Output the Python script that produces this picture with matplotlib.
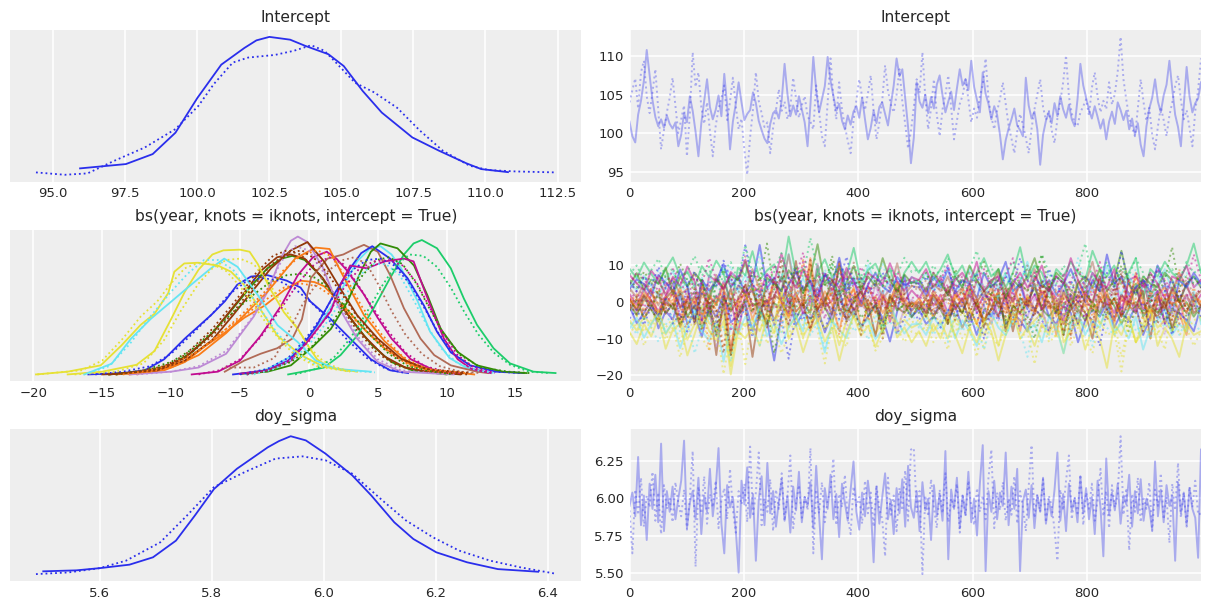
import numpy as np
import matplotlib
matplotlib.use("Agg")
import matplotlib.pyplot as plt

# arviz-darkgrid colour cycle
palette = ["#2a2eec", "#fa7c17", "#328c06", "#c10c90", "#933708",
           "#65e5f3", "#e6e135", "#1ccd6a", "#bd8ad5", "#b16b57"]

titles = ["Intercept", "bs(year, knots = iknots, intercept = True)", "doy_sigma"]

kde_xticks = [[95, 97.5, 100, 102.5, 105, 107.5, 110, 112.5],
              [-20, -15, -10, -5, 0, 5, 10, 15],
              [5.6, 5.8, 6.0, 6.2, 6.4]]
trace_yticks = [[95, 100, 105, 110], [-20, -10, 0, 10], [5.5, 5.75, 6.0, 6.25]]
draw_ticks = [0, 200, 400, 600, 800]
n_draws = 1000

# ---- Intercept: kde curves (value, relative density) per chain ----
intercept_kde_c0 = [(95.93, 0.053), (97.52, 0.084), (98.45, 0.156), (99.24, 0.31), (100.0, 0.56),
                    (100.83, 0.80), (101.63, 0.92), (102.05, 0.975), (102.5, 1.0), (103.22, 0.98),
                    (103.75, 0.935), (104.55, 0.875), (105.08, 0.79), (105.74, 0.61), (106.4, 0.455),
                    (107.46, 0.276), (108.39, 0.18), (109.32, 0.091), (109.85, 0.048), (110.78, 0.026)]
intercept_kde_c1 = [(94.4, 0.024), (95.4, 0.007), (96.19, 0.017), (97.12, 0.108), (98.18, 0.204),
                    (99.24, 0.336), (100.04, 0.504), (100.57, 0.66), (101.23, 0.815), (101.76, 0.851),
                    (102.69, 0.87), (103.35, 0.90), (103.95, 0.94), (104.41, 0.90), (104.81, 0.815),
                    (105.47, 0.67), (106.14, 0.60), (106.93, 0.49), (107.73, 0.324), (108.52, 0.18),
                    (109.45, 0.072), (110.11, 0.041), (111.04, 0.031), (112.43, 0.024)]

# Intercept trace, every 5th draw
intercept_trace_c0 = [
    101.5, 99.6, 98.8, 102.4, 104.2, 106.8, 110.8, 107.5, 104.3, 102.1, 100.9, 101.8, 100.7, 102.3, 101.2,
    100.6, 101.4, 98.3, 99.8, 102.6, 101.4, 104.8, 102.9, 100.2, 97.0, 101.3, 104.1, 107.0, 103.4, 101.8,
    103.0, 104.9, 102.2, 107.7, 103.6, 97.9, 101.5, 103.8, 106.6, 104.0, 101.7, 102.5, 103.0, 105.3, 103.9,
    101.6, 100.4, 99.3, 98.7, 101.2, 102.6, 103.0, 101.9, 104.3, 109.0, 105.1, 102.2, 103.6, 102.4, 104.8,
    103.1, 101.4, 98.3, 103.7, 109.9, 105.6, 102.7, 104.4, 106.1, 109.9, 106.8, 104.8, 102.9, 103.8, 101.6,
    100.5, 102.3, 101.1, 102.8, 103.5, 102.0, 104.6, 101.8, 99.2, 100.7, 102.9, 101.3, 103.4, 104.0, 102.5,
    101.0, 103.7, 106.2, 109.7, 107.4, 108.3, 104.6, 100.8, 96.1, 99.4, 106.6, 104.1, 103.3, 105.0, 102.6,
    104.7, 103.2, 106.3, 107.5, 104.9, 102.7, 104.1, 105.4, 103.0, 105.8, 108.3, 106.2, 107.0, 105.6, 109.4,
    106.0, 104.3, 102.7, 107.9, 105.1, 103.8, 101.8, 103.5, 102.4, 99.8, 96.6, 99.1, 100.6, 101.8, 103.2,
    101.0, 100.4, 99.6, 107.2, 103.6, 101.9, 102.8, 100.5, 95.9, 99.8, 101.6, 102.7, 101.3, 103.9, 102.2,
    104.8, 103.1, 102.0, 103.7, 101.8, 100.9, 104.4, 109.0, 106.2, 104.6, 103.0, 101.9, 103.5, 102.1, 100.6,
    101.8, 99.2, 101.5, 102.8, 101.2, 104.0, 103.0, 101.7, 102.9, 100.5, 101.9, 99.8, 101.3, 98.5, 97.0,
    100.9, 103.2, 104.6, 107.0, 104.1, 102.7, 104.9, 106.3, 109.4, 105.7, 102.4, 100.8, 98.3, 103.6, 108.6,
    104.8, 102.7, 103.9, 104.5, 106.6]
intercept_trace_c1 = [
    104.0, 105.6, 107.1, 103.2, 107.9, 109.4, 104.8, 102.6, 105.3, 108.3, 103.1, 97.9, 100.4, 102.7, 104.6,
    107.2, 103.5, 100.0, 101.8, 103.6, 97.0, 102.4, 110.5, 106.0, 107.9, 103.4, 101.2, 104.0, 100.3, 97.0,
    100.9, 103.2, 104.5, 106.2, 101.7, 104.1, 107.2, 103.6, 100.5, 101.9, 97.8, 94.6, 99.5, 103.1, 107.9,
    104.2, 102.6, 100.8, 101.4, 97.4, 100.7, 103.0, 105.7, 102.9, 104.1, 101.8, 103.3, 107.2, 104.5, 102.0,
    103.6, 104.8, 102.2, 101.5, 100.5, 106.2, 102.8, 99.6, 98.3, 103.9, 109.7, 104.6, 101.8, 106.6, 103.0,
    100.9, 99.0, 97.4, 101.6, 104.3, 107.0, 104.7, 103.0, 105.1, 107.5, 102.9, 99.2, 101.4, 104.2, 108.8,
    105.5, 103.7, 102.7, 105.0, 108.3, 104.1, 101.2, 98.0, 100.3, 103.4, 107.0, 105.2, 110.5, 104.6, 100.5,
    103.2, 107.0, 102.4, 99.6, 103.1, 105.0, 107.5, 103.3, 99.2, 101.6, 103.8, 104.9, 107.0, 104.4, 101.4,
    103.2, 102.0, 104.8, 106.3, 109.7, 104.5, 102.1, 100.5, 102.9, 104.4, 106.6, 103.8, 101.0, 99.3, 97.4,
    100.2, 102.5, 101.1, 99.4, 97.4, 100.6, 103.1, 105.0, 107.0, 103.4, 101.7, 103.0, 100.4, 98.7, 101.9,
    104.1, 106.6, 110.1, 104.8, 102.6, 101.3, 100.9, 102.7, 103.5, 104.4, 102.3, 105.9, 107.9, 104.7, 102.7,
    104.2, 103.1, 106.6, 103.7, 105.1, 108.0, 112.5, 107.0, 104.3, 102.0, 100.8, 99.6, 103.2, 107.0, 104.0,
    101.6, 103.3, 99.8, 97.9, 100.9, 103.4, 101.7, 99.6, 102.3, 104.0, 106.1, 107.5, 104.3, 101.8, 103.0,
    100.7, 98.3, 102.9, 105.6, 109.7]

# ---- doy_sigma ----
sigma_kde_c0 = [(5.499, 0.027), (5.558, 0.034), (5.6, 0.05), (5.653, 0.075), (5.695, 0.128),
                (5.736, 0.248), (5.77, 0.43), (5.804, 0.62), (5.845, 0.766), (5.9, 0.92), (5.92, 0.965),
                (5.941, 1.0), (5.968, 0.97), (6.003, 0.875), (6.051, 0.718), (6.085, 0.573),
                (6.126, 0.38), (6.16, 0.26), (6.201, 0.164), (6.256, 0.092), (6.311, 0.043),
                (6.383, 0.024)]
sigma_kde_c1 = [(5.486, 0.007), (5.544, 0.019), (5.6, 0.05), (5.647, 0.104), (5.708, 0.236),
                (5.756, 0.43), (5.804, 0.634), (5.859, 0.742), (5.914, 0.839), (5.962, 0.855),
                (6.003, 0.827), (6.051, 0.73), (6.105, 0.537), (6.147, 0.393), (6.195, 0.272),
                (6.242, 0.176), (6.297, 0.104), (6.352, 0.055), (6.414, 0.01)]

# doy_sigma trace, every 5th draw
sigma_trace_c0 = [
    5.95, 6.04, 5.88, 6.28, 5.82, 6.02, 5.72, 6.10, 5.93, 6.16, 5.84, 6.37, 5.78, 6.05, 5.91, 6.08, 5.86,
    6.00, 6.12, 6.39, 5.80, 5.97, 6.05, 5.86, 6.14, 5.76, 6.02, 5.91, 6.20, 5.88, 6.06, 6.34, 5.83, 5.63,
    6.09, 5.94, 6.01, 5.79, 5.50, 6.12, 5.96, 6.21, 5.87, 6.03, 5.58, 5.99, 6.15, 5.82, 6.24, 5.90, 6.05,
    5.81, 5.98, 6.13, 5.85, 6.02, 5.77, 6.08, 5.92, 6.18, 5.84, 6.01, 5.95, 6.11, 5.80, 6.22, 5.89, 5.59,
    6.07, 5.93, 6.16, 5.86, 6.03, 5.74, 6.10, 5.97, 5.85, 6.06, 6.25, 5.91, 5.79, 6.04, 5.88, 6.12, 5.95,
    5.57, 6.08, 5.83, 6.01, 6.17, 5.86, 5.99, 5.76, 6.07, 5.90, 6.13, 5.81, 6.22, 5.94, 5.87, 6.05, 5.78,
    6.11, 5.92, 6.00, 5.72, 6.09, 5.88, 6.03, 5.85, 6.32, 5.59, 6.06, 5.93, 6.14, 5.80, 6.02, 5.89, 6.18,
    5.84, 6.00, 5.75, 6.10, 6.36, 5.51, 6.05, 5.91, 6.12, 5.86, 6.04, 5.95, 6.31, 5.82, 6.08, 5.93, 6.20,
    5.51, 5.98, 6.06, 5.87, 6.09, 5.80, 6.02, 5.91, 6.14, 5.83, 5.99, 5.88, 6.06, 6.31, 5.85, 6.03, 5.78,
    6.10, 5.92, 6.00, 5.84, 6.15, 5.90, 6.07, 5.86, 6.01, 5.76, 6.12, 5.94, 5.61, 6.27, 5.89, 6.04, 5.92,
    6.10, 5.83, 6.02, 5.96, 6.16, 5.81, 6.05, 5.90, 6.13, 5.85, 6.00, 5.93, 5.79, 6.25, 5.88, 6.06, 5.84,
    6.09, 5.95, 6.02, 5.58, 6.11, 5.90, 6.04, 5.82, 6.07, 5.93, 5.87, 5.60, 6.33]
sigma_trace_c1 = [
    5.92, 5.63, 6.06, 5.89, 6.14, 5.81, 6.02, 5.94, 6.18, 5.85, 6.04, 5.76, 6.09, 5.93, 6.00, 5.84, 6.11,
    5.97, 5.88, 6.06, 5.79, 6.00, 6.32, 5.54, 6.08, 5.90, 6.15, 5.83, 6.03, 5.94, 6.12, 5.80, 5.99, 6.07,
    5.86, 6.20, 5.92, 5.77, 6.05, 5.96, 6.10, 5.84, 6.35, 5.88, 6.04, 6.31, 5.82, 6.00, 5.91, 6.13, 5.78,
    6.06, 5.93, 6.17, 5.85, 6.02, 6.29, 5.80, 5.97, 6.09, 5.87, 6.01, 5.92, 6.34, 5.63, 6.06, 5.90, 6.11,
    5.84, 5.99, 6.05, 6.27, 5.82, 6.03, 5.94, 6.16, 5.87, 5.76, 6.08, 5.95, 6.01, 5.83, 6.12, 5.90, 6.04,
    5.81, 6.09, 5.93, 5.86, 5.61, 6.14, 5.89, 6.02, 5.78, 6.07, 5.92, 6.19, 5.85, 6.33, 6.34, 5.91, 6.05,
    5.49, 6.02, 5.88, 6.13, 5.94, 5.80, 6.06, 5.90, 6.17, 5.84, 6.00, 5.93, 6.10, 5.77, 6.03, 5.88, 6.12,
    5.95, 5.82, 6.07, 5.91, 6.02, 5.86, 6.14, 6.33, 5.80, 6.04, 5.92, 6.11, 5.85, 6.00, 5.89, 6.15, 5.83,
    6.05, 5.94, 5.78, 6.08, 6.36, 5.87, 6.03, 5.91, 6.13, 5.84, 6.02, 5.95, 5.79, 5.58, 6.06, 5.92, 6.12,
    6.29, 5.86, 6.01, 5.90, 6.16, 5.82, 6.04, 5.93, 6.10, 5.85, 5.99, 6.20, 5.88, 6.05, 5.80, 6.09, 5.94,
    6.02, 6.42, 5.89, 6.07, 5.65, 6.03, 5.91, 6.14, 5.84, 6.00, 5.93, 6.11, 5.78, 6.06, 5.95, 6.17, 5.86,
    6.01, 5.70, 6.10, 5.92, 6.24, 5.87, 6.04, 5.81, 6.08, 5.94, 6.12, 5.89, 5.90]

# ---- spline coefficients (17 components), kde per chain ----
bs_kde_c0 = [
    [(-16.0, 0.0), (-13.5, 0.01), (-11.9, 0.03), (-10.5, 0.11), (-9.0, 0.26), (-7.1, 0.43), (-6.1, 0.53), (-5.2, 0.65), (-4.2, 0.71), (-3.0, 0.72), (-1.6, 0.68), (-0.6, 0.63), (0.1, 0.53), (1.6, 0.40), (3.0, 0.26), (4.5, 0.11), (5.9, 0.03), (7.2, 0.01)],
    [(-13.0, 0.0), (-10.5, 0.03), (-9.0, 0.09), (-7.6, 0.2), (-6.0, 0.31), (-4.7, 0.41), (-3.2, 0.5), (-1.8, 0.61), (-0.6, 0.68), (0.4, 0.67), (1.1, 0.64), (2.5, 0.5), (4.0, 0.33), (5.5, 0.19), (7.4, 0.07), (9.0, 0.02), (10.0, 0.01)],
    [(-14.5, 0.0), (-12.0, 0.02), (-10.0, 0.07), (-8.5, 0.16), (-7.0, 0.3), (-5.5, 0.48), (-4.2, 0.64), (-3.0, 0.77), (-2.0, 0.84), (-1.2, 0.86), (-0.3, 0.83), (0.8, 0.72), (2.0, 0.55), (3.3, 0.37), (4.6, 0.21), (6.0, 0.09), (7.5, 0.03), (10.0, 0.0)],
    [(-8.5, 0.0), (-6.6, 0.02), (-5.0, 0.1), (-3.5, 0.28), (-2.0, 0.5), (-0.8, 0.72), (0.3, 0.85), (1.3, 0.89), (2.0, 0.84), (2.8, 0.75), (4.0, 0.58), (5.0, 0.41), (6.0, 0.26), (7.4, 0.11), (9.1, 0.03), (10.0, 0.01)],
    [(-15.0, 0.0), (-12.5, 0.01), (-11.0, 0.03), (-9.0, 0.12), (-7.0, 0.3), (-5.0, 0.55), (-3.5, 0.75), (-2.3, 0.85), (-1.3, 0.87), (-0.3, 0.84), (1.0, 0.7), (2.5, 0.48), (4.0, 0.28), (5.5, 0.13), (7.0, 0.05), (8.5, 0.02), (11.0, 0.0)],
    [(-4.5, 0.0), (-3.0, 0.04), (-1.3, 0.13), (-0.1, 0.26), (1.1, 0.41), (2.3, 0.6), (3.5, 0.82), (4.4, 0.91), (5.2, 0.93), (6.0, 0.87), (6.7, 0.77), (7.9, 0.53), (8.8, 0.31), (10.2, 0.12), (11.4, 0.05), (13.2, 0.01)],
    [(-17.5, 0.0), (-15.0, 0.02), (-12.5, 0.07), (-11.2, 0.17), (-10.0, 0.4), (-9.0, 0.6), (-8.0, 0.76), (-7.0, 0.87), (-6.2, 0.9), (-5.0, 0.905), (-4.3, 0.89), (-3.7, 0.8), (-2.8, 0.62), (-1.8, 0.45), (-0.8, 0.33), (0.0, 0.2), (0.6, 0.11), (1.5, 0.05), (3.5, 0.02)],
    [(-1.5, 0.0), (-0.7, 0.015), (1.1, 0.05), (2.3, 0.14), (3.5, 0.28), (4.7, 0.48), (5.9, 0.7), (6.9, 0.87), (7.6, 0.95), (8.2, 0.975), (9.3, 0.915), (10.3, 0.77), (11.25, 0.55), (12.2, 0.36), (13.4, 0.19), (14.6, 0.08), (16.3, 0.02), (17.9, 0.01)],
    [(-13.0, 0.0), (-10.0, 0.02), (-8.0, 0.05), (-6.0, 0.15), (-4.0, 0.42), (-3.0, 0.6), (-2.0, 0.85), (-1.3, 0.97), (-0.8, 1.0), (-0.1, 0.96), (1.0, 0.78), (2.1, 0.5), (3.5, 0.26), (5.0, 0.09), (6.7, 0.02), (10.5, 0.0)],
    [(-6.1, 0.02), (-4.7, 0.1), (-3.5, 0.15), (-2.3, 0.19), (-1.2, 0.26), (-0.5, 0.4), (0.15, 0.7), (1.35, 0.84), (2.5, 0.87), (3.3, 0.91), (4.0, 0.94), (5.0, 0.89), (5.9, 0.72), (6.9, 0.48), (8.1, 0.26), (9.1, 0.14), (10.3, 0.066), (12.2, 0.02), (13.0, 0.01)],
    [(-5.5, 0.0), (-3.0, 0.03), (-1.5, 0.1), (-0.5, 0.2), (0.6, 0.36), (1.8, 0.575), (3.0, 0.77), (3.8, 0.88), (4.6, 0.93), (5.9, 0.84), (7.15, 0.7), (8.35, 0.5), (9.3, 0.31), (10.3, 0.16), (11.7, 0.066), (13.6, 0.02), (15.6, 0.01)],
    [(-14.0, 0.0), (-11.5, 0.02), (-10.0, 0.05), (-8.0, 0.14), (-6.0, 0.3), (-4.5, 0.45), (-3.0, 0.6), (-2.0, 0.72), (-1.0, 0.84), (0.5, 0.92), (1.5, 0.91), (2.3, 0.75), (4.0, 0.43), (5.5, 0.24), (7.2, 0.09), (9.0, 0.03), (12.0, 0.0)],
    [(-4.9, 0.005), (-3.0, 0.02), (-1.3, 0.066), (0.14, 0.187), (1.6, 0.33), (2.8, 0.527), (3.77, 0.745), (4.5, 0.89), (5.2, 0.95), (6.43, 0.915), (7.63, 0.79), (8.6, 0.575), (9.57, 0.33), (10.8, 0.163), (12.2, 0.066), (14.1, 0.02), (15.8, 0.01)],
    [(-5.0, 0.005), (-3.0, 0.03), (-1.3, 0.1), (0.0, 0.25), (1.0, 0.38), (1.6, 0.46), (2.3, 0.65), (3.0, 0.79), (4.2, 0.77), (5.5, 0.82), (6.9, 0.84), (7.6, 0.82), (8.35, 0.62), (9.1, 0.43), (9.8, 0.26), (10.8, 0.11), (11.8, 0.04), (13.2, 0.01)],
    [(-14.5, 0.0), (-11.0, 0.03), (-9.0, 0.1), (-7.0, 0.25), (-5.5, 0.43), (-4.7, 0.53), (-2.75, 0.77), (-1.3, 0.9), (-0.1, 0.96), (1.1, 0.82), (2.3, 0.62), (3.5, 0.43), (5.0, 0.26), (6.7, 0.114), (8.8, 0.03), (11.2, 0.01)],
    [(-16.3, 0.0), (-14.3, 0.078), (-12.9, 0.26), (-11.45, 0.405), (-10.0, 0.527), (-8.55, 0.65), (-7.1, 0.77), (-6.14, 0.84), (-5.17, 0.78), (-3.7, 0.575), (-2.27, 0.357), (-0.82, 0.236), (0.5, 0.1), (2.0, 0.04), (4.5, 0.02)],
    [(-19.8, 0.0), (-17.5, 0.02), (-15.1, 0.066), (-13.6, 0.21), (-12.2, 0.36), (-11.2, 0.44), (-10.2, 0.59), (-9.76, 0.745), (-9.04, 0.805), (-8.07, 0.81), (-6.6, 0.79), (-5.65, 0.745), (-4.7, 0.65), (-3.24, 0.43), (-2.27, 0.28), (-0.58, 0.14), (1.0, 0.06), (2.5, 0.03), (3.0, 0.025)],
]
bs_kde_c1 = [
    [(-15.5, 0.0), (-13.5, 0.02), (-11.5, 0.06), (-10.0, 0.15), (-8.5, 0.29), (-7.0, 0.44), (-5.8, 0.58), (-4.6, 0.67), (-3.4, 0.70), (-2.2, 0.68), (-1.0, 0.62), (0.2, 0.52), (1.5, 0.39), (2.8, 0.25), (4.2, 0.12), (5.6, 0.04), (7.0, 0.01)],
    [(-12.5, 0.0), (-10.5, 0.04), (-9.0, 0.1), (-7.5, 0.21), (-6.0, 0.33), (-4.5, 0.44), (-3.0, 0.55), (-1.8, 0.63), (-0.6, 0.66), (0.6, 0.64), (1.8, 0.56), (3.0, 0.43), (4.4, 0.29), (5.8, 0.16), (7.4, 0.06), (9.0, 0.02), (10.5, 0.01)],
    [(-14.0, 0.0), (-12.0, 0.03), (-10.0, 0.09), (-8.5, 0.18), (-7.0, 0.31), (-5.5, 0.45), (-4.0, 0.58), (-2.8, 0.67), (-1.6, 0.72), (-0.6, 0.73), (0.5, 0.7), (1.7, 0.6), (3.0, 0.45), (4.4, 0.29), (5.8, 0.15), (7.2, 0.06), (9.0, 0.02), (10.5, 0.0)],
    [(-8.0, 0.0), (-6.5, 0.03), (-5.0, 0.11), (-3.5, 0.27), (-2.0, 0.48), (-0.8, 0.66), (0.4, 0.8), (1.5, 0.85), (2.5, 0.8), (3.5, 0.66), (4.6, 0.49), (5.8, 0.31), (7.0, 0.16), (8.4, 0.06), (10.0, 0.02), (11.0, 0.01)],
    [(-14.5, 0.0), (-12.5, 0.02), (-10.5, 0.06), (-9.0, 0.14), (-7.0, 0.33), (-5.2, 0.55), (-3.8, 0.74), (-2.6, 0.86), (-1.6, 0.9), (-0.6, 0.87), (0.6, 0.75), (2.0, 0.54), (3.5, 0.32), (5.0, 0.15), (6.5, 0.06), (8.5, 0.02), (11.5, 0.0)],
    [(-4.0, 0.0), (-2.5, 0.04), (-1.0, 0.12), (0.2, 0.24), (1.4, 0.39), (2.6, 0.57), (3.7, 0.72), (4.7, 0.8), (5.6, 0.8), (6.6, 0.72), (7.6, 0.54), (8.6, 0.35), (9.6, 0.19), (10.8, 0.08), (12.2, 0.03), (13.5, 0.01)],
    [(-17.0, 0.0), (-14.0, 0.02), (-12.0, 0.08), (-10.5, 0.25), (-9.3, 0.46), (-8.0, 0.66), (-7.0, 0.77), (-6.0, 0.83), (-5.0, 0.84), (-4.0, 0.8), (-3.0, 0.68), (-2.0, 0.52), (-1.0, 0.36), (0.0, 0.2), (1.0, 0.1), (2.0, 0.05), (3.0, 0.02)],
    [(-1.0, 0.0), (0.5, 0.04), (1.8, 0.12), (3.0, 0.26), (4.2, 0.45), (5.3, 0.64), (6.3, 0.79), (7.3, 0.87), (8.3, 0.86), (9.3, 0.78), (10.3, 0.63), (11.3, 0.45), (12.3, 0.29), (13.4, 0.16), (14.6, 0.07), (16.0, 0.02), (17.5, 0.01)],
    [(-12.5, 0.0), (-10.0, 0.02), (-8.0, 0.06), (-6.0, 0.17), (-4.2, 0.4), (-3.0, 0.62), (-2.0, 0.82), (-1.0, 0.93), (0.0, 0.9), (1.0, 0.75), (2.2, 0.51), (3.5, 0.28), (5.0, 0.11), (6.7, 0.03), (10.0, 0.0)],
    [(-6.1, 0.05), (-4.0, 0.05), (-2.5, 0.12), (-1.5, 0.3), (-0.5, 0.5), (0.5, 0.65), (1.5, 0.76), (2.5, 0.83), (3.3, 0.85), (4.2, 0.8), (5.0, 0.66), (6.0, 0.46), (7.0, 0.29), (8.2, 0.15), (9.5, 0.06), (11.0, 0.02), (12.5, 0.01)],
    [(-5.0, 0.0), (-3.0, 0.04), (-1.5, 0.12), (-0.3, 0.25), (0.8, 0.4), (2.0, 0.6), (3.2, 0.76), (4.2, 0.83), (5.2, 0.84), (6.2, 0.79), (7.3, 0.66), (8.4, 0.48), (9.4, 0.3), (10.5, 0.15), (11.8, 0.06), (13.5, 0.02), (15.5, 0.01)],
    [(-13.5, 0.0), (-11.5, 0.03), (-10.0, 0.07), (-8.0, 0.17), (-6.0, 0.33), (-4.5, 0.47), (-3.0, 0.62), (-1.8, 0.76), (-0.6, 0.86), (0.6, 0.9), (1.6, 0.86), (2.6, 0.72), (3.8, 0.5), (5.2, 0.3), (6.8, 0.13), (8.5, 0.04), (11.5, 0.01)],
    [(-4.5, 0.0), (-3.0, 0.03), (-1.3, 0.09), (0.2, 0.2), (1.6, 0.36), (2.8, 0.55), (3.9, 0.72), (4.9, 0.83), (5.8, 0.85), (6.8, 0.8), (7.8, 0.66), (8.8, 0.47), (9.8, 0.29), (11.0, 0.14), (12.5, 0.05), (14.5, 0.02), (16.0, 0.01)],
    [(-4.5, 0.0), (-3.0, 0.03), (-1.5, 0.1), (0.0, 0.24), (1.3, 0.42), (2.5, 0.62), (3.6, 0.76), (4.7, 0.82), (5.8, 0.83), (6.8, 0.79), (7.8, 0.67), (8.8, 0.48), (9.8, 0.29), (10.8, 0.14), (12.0, 0.05), (13.5, 0.01)],
    [(-14.0, 0.0), (-11.0, 0.04), (-9.0, 0.12), (-7.0, 0.28), (-5.5, 0.45), (-4.0, 0.64), (-2.8, 0.79), (-1.6, 0.88), (-0.5, 0.9), (0.7, 0.82), (2.0, 0.64), (3.3, 0.45), (4.8, 0.27), (6.4, 0.12), (8.5, 0.04), (11.8, 0.01)],
    [(-16.3, 0.0), (-14.5, 0.06), (-13.0, 0.22), (-11.5, 0.42), (-10.0, 0.6), (-8.8, 0.73), (-7.6, 0.83), (-6.6, 0.83), (-5.5, 0.76), (-4.5, 0.62), (-3.5, 0.47), (-2.3, 0.3), (-1.0, 0.16), (0.5, 0.07), (2.5, 0.03), (4.8, 0.015)],
    [(-19.7, 0.0), (-16.5, 0.03), (-15.0, 0.1), (-13.5, 0.26), (-12.2, 0.42), (-11.0, 0.53), (-10.0, 0.66), (-9.0, 0.77), (-8.0, 0.81), (-7.0, 0.8), (-6.0, 0.75), (-5.0, 0.64), (-4.0, 0.5), (-3.0, 0.36), (-2.0, 0.24), (-1.0, 0.14), (0.5, 0.06), (3.0, 0.02)],
]

# spline coefficient traces (80 readings per chain, evenly over the draws)
bs_trace_c0 = [
    [-1.2, -5.8, -3.0, 0.5, -7.2, -2.5, -4.8, 1.8, -6.0, -3.3, -9.5, -1.0, -4.2, 2.6, -5.5, -3.8, -0.2, -7.8, -2.2, -5.0, -16.0, -3.5, 0.9, -6.4, -2.8, -4.6, -1.5, -8.3, -3.1, 3.5, -5.2, -2.0, -6.8, -3.9, -0.8, -4.4, -10.8, -2.6, 7.2, -4.0,
     -2, -6, -4, 0, -5, -1, -7, -3, -9, -2, -4, 1, -6, -3, -5, -8, -2, 2, -4, -6, -1, -3, -11, -5, -2, -4, 0, -7, -3, -5, -1, -9, -4, 3, -6, -2, -3, -5, -8, -1],
    [1.5, -2.8, 0.2, 3.6, -4.1, -0.9, 2.4, -6.2, 0.8, -1.7, 4.5, -3.3, -0.2, 1.9, -13.0, -1.2, 3.0, -4.8, 0.5, -2.1, 6.3, -0.6, -3.9, 1.2, -1.5, 10.0, -5.6, 0.1, 2.7, -2.4, -0.8, 4.0, -7.4, -1.0, 1.6, -3.0, 0.4, 5.2, -2.0, -0.3,
     0, -3, 2, -1, -5, 1, 3, -2, -6, 0, 4, -1, -3, 1, -8, 2, -2, 0, 5, -4, -1, 2, -3, 0, -7, 3, -1, 1, -4, 6, -2, 0, -5, 2, -1, 3, -3, -9, 1, -1],
    [-0.5, -3.6, 1.2, -2.0, -5.3, 0.6, -1.8, 2.9, -4.0, -0.9, -7.1, -2.5, 1.7, -1.1, -14.5, -3.0, 0.2, 4.1, -2.2, -6.0, -0.4, -1.6, 2.3, -4.5, -0.8, -2.9, 10.0, -1.3, -5.5, 0.9, -2.7, -0.1, 3.4, -3.8, -1.0, -8.4, 1.5, -2.3, -0.6, -4.2,
     -1, -4, 1, -2, -6, 0, -3, 3, -1, -5, -2, 2, -7, -1, -3, 0, 4, -2, -4, -1, -9, 1, -2, -5, 0, -3, 2, -1, -6, -2, 5, -4, -1, -3, 1, -8, -2, 0, -4, -1],
    [2.2, -0.8, 3.5, 0.4, -2.5, 1.6, 4.8, -1.3, 0.9, 2.7, -4.0, 1.2, -0.2, 5.6, 0.6, -8.5, 2.0, 3.1, -1.8, 0.0, 1.4, 6.9, -0.6, 2.5, -3.2, 1.0, 3.9, -1.1, 0.3, 10.0, 1.8, -2.2, 0.8, 4.3, -0.4, 2.9, -5.5, 1.3, 0.1, 3.2,
     1, 4, -1, 2, -3, 3, 0, 5, -2, 2, 1, -4, 3, 0, 6, -1, 2, -2, 4, 1, -5, 2, 0, 3, -1, 7, 1, -3, 2, 0, 4, -2, 1, 3, -6, 2, 0, 5, -1, 2],
    [-2.0, 0.8, -4.5, -1.1, 2.3, -3.2, -0.4, -6.8, -1.7, 1.5, -2.9, -0.2, -9.1, -1.4, 3.6, -3.8, -0.9, -15.0, -2.2, 0.6, -5.0, -1.0, 4.9, -2.6, -0.5, -7.3, -1.8, 1.1, -3.5, 11.0, -1.2, -4.1, 0.3, -2.4, -0.7, -5.7, 2.0, -1.5, -3.0, 0.1,
     -2, 1, -4, -1, -6, 0, -3, 2, -1, -5, -2, 3, -8, -1, -3, 1, -2, -4, 4, -1, -6, -2, 0, -3, -10, 1, -2, -5, 2, -1, -3, 6, -2, -4, 0, -7, -1, 2, -3, -1],
    [5.5, 3.2, 7.1, 4.4, 1.6, 6.0, 8.3, 3.8, 5.2, -4.5, 6.6, 2.5, 4.9, 9.4, 5.8, 3.0, 7.5, 4.1, 0.4, 5.3, 6.8, 2.9, 13.2, 4.6, 6.2, 3.5, 5.0, 8.0, 1.9, 5.9, 4.3, 7.0, 3.3, 10.1, 5.1, 2.2, 6.4, 4.8, 3.7, 6.9,
     5, 8, 3, 6, 2, 7, 4, 9, 5, 1, 6, 4, 8, 3, 5, 11, 4, 6, 2, 7, 5, -1, 6, 3, 8, 4, 10, 5, 2, 7, 4, 6, 0, 5, 9, 3, 6, 4, 7, 5],
    [-5.0, -7.8, -3.9, -6.2, -2.1, -8.9, -5.4, -4.2, -10.3, -6.0, -1.0, -5.8, -7.1, -3.5, -17.5, -5.2, -6.6, -4.6, -8.0, -2.8, -5.9, 3.5, -6.9, -4.0, -9.5, -5.6, -3.2, -7.4, -4.8, -11.8, -5.1, -2.4, -6.4, -4.4, -8.6, -5.3, -0.3, -6.1, -4.9, -7.0,
     -6, -3, -8, -5, -10, -4, -7, -2, -6, -9, -5, -12, -4, -6, -1, -7, -5, -3, -8, -6, -14, -4, -5, -7, 0, -6, -3, -9, -5, -4, -11, -6, -2, -7, -5, -8, -4, -6, 1, -5],
    [9.1, 6.5, 10.8, 7.7, 5.0, 8.9, 12.2, 7.0, 8.4, 4.1, 9.8, 6.9, 11.3, 8.1, -1.5, 9.4, 7.3, 13.9, 6.1, 8.6, 10.3, 5.6, 17.9, 7.8, 9.0, 3.2, 8.2, 11.7, 6.7, 9.6, 7.4, 14.8, 5.3, 8.8, 10.5, 6.3, 9.2, 2.4, 8.0, 11.0,
     8, 11, 6, 9, 13, 7, 10, 5, 8, 12, 7, 9, 4, 8, 15, 6, 10, 8, 3, 9, 7, 11, 8, 6, 14, 9, 7, 10, 5, 8, 12, 1, 9, 7, 11, 8, 6, 10, 16, 8],
    [-0.5, -2.6, 1.1, -1.4, -3.9, 0.4, -0.9, 2.5, -2.0, -0.2, -5.3, -1.1, 1.8, -0.7, -13.0, -1.8, 0.6, -3.0, -0.3, 3.6, -1.5, -0.8, -6.4, 0.9, -2.2, -0.1, 10.5, -1.3, -4.4, 0.2, -1.9, 1.4, -0.6, -2.8, 4.7, -1.0, -0.4, -8.0, -1.6, 0.7,
     -1, -3, 1, -2, -4, 0, -1, 2, -3, -1, -6, 0, -2, 3, -1, -4, 1, -2, -8, 0, -1, 2, -3, -1, 4, -2, 0, -5, -1, 1, -3, 6, -1, -2, 0, -4, -1, 2, -2, -1],
    [3.8, 1.2, 5.0, 2.6, -0.9, 4.3, 6.5, 2.0, 3.6, -6.1, 4.8, 1.7, 7.4, 3.1, 0.3, 4.5, 2.4, 9.0, 3.3, -2.8, 5.4, 2.9, 13.0, 1.5, 4.1, 3.0, 6.0, 0.8, 3.9, 2.2, 8.2, -4.0, 4.6, 2.7, 5.7, 1.0, 3.4, 10.6, 2.1, 4.4,
     4, 1, 5, 3, 7, 2, 4, -1, 6, 3, 2, 8, 4, 0, 5, 3, 9, 2, 4, -3, 6, 3, 1, 5, 11, 3, 4, 2, 7, 0, 4, 6, 2, 5, -2, 3, 8, 4, 1, 3],
    [3.6, 6.2, 4.9, 1.8, 7.4, 5.3, 2.9, 8.9, 4.4, -5.5, 6.0, 3.2, 5.7, 10.4, 4.0, 7.1, 2.4, 5.2, 15.6, 3.8, 6.6, 0.9, 4.7, 8.2, 3.3, 5.9, 2.0, 7.7, 4.6, 12.1, 3.0, 6.4, -1.2, 5.0, 7.9, 4.2, 2.7, 6.8, 4.5, 5.5,
     5, 2, 7, 4, 9, 3, 6, 5, 1, 8, 4, 6, 11, 3, 5, -2, 7, 4, 6, 2, 5, 9, 4, 0, 6, 3, 13, 5, 7, 2, 4, 6, 3, 10, 5, -3, 6, 4, 8, 5],
    [1.0, -1.6, 2.7, 0.2, -3.4, 1.5, -0.6, 3.9, -2.1, 0.7, -5.8, 1.9, -0.9, 4.8, -14.0, 0.4, 2.3, -2.7, 0.9, -1.2, 6.1, 0.0, -4.3, 1.7, -0.3, 12.0, -1.9, 2.9, -0.7, -7.9, 1.2, 3.4, -1.0, 0.5, -3.0, 2.0, -0.4, 5.5, 0.8, -1.4,
     1, -2, 3, 0, -4, 2, -1, 4, 1, -6, 2, 0, -2, 5, -1, 1, -3, 3, 0, -9, 2, -1, 6, 1, -2, 0, 3, -5, 1, -1, 8, 0, -3, 2, 4, -1, 1, -7, 2, 0],
    [4.6, 7.9, 3.2, 6.1, 5.0, 9.4, 2.1, 6.8, 4.3, 8.0, 5.5, 0.7, 6.4, 3.7, 7.2, 5.9, 10.8, 4.0, -4.9, 6.6, 5.1, 3.0, 8.7, 5.7, 2.5, 7.0, 15.8, 4.8, 6.2, 1.9, 5.3, 9.9, 3.5, 6.9, 4.4, 12.0, 5.8, 2.8, 7.5, 5.2,
     6, 3, 8, 5, 2, 7, 4, 10, 6, 3, 5, 9, 1, 6, 4, 7, 12, 5, 3, 8, 6, -2, 5, 7, 4, 9, 3, 6, 14, 5, 2, 7, 5, 4, 8, 6, 0, 5, 7, 4],
    [7.4, 5.1, 3.2, 8.6, 6.0, 1.9, 6.9, 4.4, 9.7, 5.6, -5.0, 7.1, 5.8, 3.5, 8.2, 6.3, 11.6, 4.6, 2.6, 7.7, 5.3, 13.2, 6.6, 4.0, 8.9, 5.0, 0.5, 7.3, 6.1, 3.8, 9.3, 5.4, 2.2, 7.9, 6.5, 4.9, 10.6, 5.7, 3.1, 6.8,
     6, 9, 4, 7, 2, 6, 8, 5, 11, 3, 6, 7, 0, 5, 8, 4, 6, 10, 3, 7, 5, 12, 6, 2, 8, 5, 4, 9, -3, 6, 7, 4, 8, 5, 1, 7, 6, 10, 4, 6],
    [0.6, -2.1, 1.9, -0.8, -3.7, 1.0, 3.2, -1.5, 0.1, -5.4, 2.5, -0.4, -14.5, 1.4, -2.6, 0.8, 4.6, -1.1, -0.2, -7.0, 2.0, 0.4, -3.1, 11.2, -0.9, 1.7, -2.0, 0.3, 5.8, -1.6, -4.6, 0.9, 2.8, -0.6, -9.3, 1.2, -1.3, 3.9, -0.1, -2.4,
     0, -3, 2, -1, 4, -2, 1, -5, 0, 3, -1, -4, 2, -8, 1, -1, 5, -2, 0, -3, 3, -1, -6, 2, 0, 7, -2, 1, -4, 0, -1, 3, -10, 1, -2, 4, 0, -3, 2, -1],
    [-7.2, -4.3, -9.8, -6.0, -3.1, -8.5, -5.5, -12.6, -6.8, -2.0, -7.9, -10.7, -5.0, -16.3, -6.4, -8.8, -4.0, -7.1, -1.2, -9.3, -5.8, -11.5, -6.9, -3.6, -8.0, 4.5, -6.2, -13.8, -5.1, -7.6, -9.9, -2.7, -6.6, -4.8, -10.2, -7.4, -0.5, -5.3, -8.6, -6.1,
     -6, -9, -4, -7, -2, -10, -5, -8, -12, -6, -3, -7, -9, -5, 1, -8, -6, -11, -4, -7, -14, -6, -3, -9, -5, -7, -1, -8, -6, -10, -4, -13, -7, -5, -2, -9, -6, -8, 3, -6],
    [-8.2, -11.5, -6.0, -9.4, -4.3, -12.8, -7.5, -5.9, -14.6, -8.8, -2.4, -7.9, -10.5, -5.2, -19.8, -8.0, -9.9, -6.7, -12.0, -3.6, -8.5, 3.0, -10.1, -6.3, -13.7, -7.7, -4.8, -10.8, -7.0, -16.0, -8.4, -3.9, -9.2, -6.5, -12.3, -7.3, -1.5, -9.7, -6.9, -11.0,
     -8, -12, -6, -10, -4, -9, -14, -7, -11, -5, -8, -16, -9, -3, -10, -7, -12, -6, -9, 1, -11, -8, -5, -13, -7, -10, -18, -6, -9, -4, -11, -8, -2, -12, -7, -10, -15, -6, -9, -8],
]
bs_trace_c1 = [
    [-4.5, -2.0, -6.3, -1.1, -3.7, 1.4, -5.9, -3.2, -8.1, -0.5, -4.9, -2.4, -7.0, 2.2, -3.6, -5.4, -1.8, -9.6, -3.0, 0.3, -6.2, -4.1, -15.5, -2.7, -5.0, 1.1, -3.4, -7.5, -1.4, -4.7, 7.0, -2.9, -6.6, -3.8, -0.4, -5.6, -2.3, -8.8, -4.3, -1.9,
     -5, -1, -3, -7, -2, -4, 0, -6, -3, -10, -2, -5, 1, -4, -7, -3, -1, -5, -8, -2, -4, 2, -6, -3, -5, -12, -2, -4, -1, -6, -3, 0, -7, -4, -2, -9, -3, -5, 1, -4],
    [-1.8, 0.9, -4.2, 2.3, -0.5, -2.9, 3.8, -1.3, -6.5, 0.6, -3.4, 1.7, -0.1, -12.5, 2.9, -2.2, 0.3, 4.6, -1.6, -4.9, 1.1, -0.7, 6.0, -2.6, -0.2, -8.0, 1.8, -1.9, 3.3, 10.5, -3.7, 0.0, 2.1, -5.1, -1.1, 1.4, -2.7, 0.8, -0.4, -3.2,
     -2, 1, -4, 2, 0, -3, 4, -1, -6, 1, -2, 3, 0, -5, 2, -1, -3, 5, -2, 0, -8, 1, -1, 3, -4, 0, 2, -6, 1, -2, 7, -1, -3, 0, 2, -5, 1, -1, 4, -2],
    [-2.4, 0.3, -4.7, -1.0, 1.9, -3.1, -0.2, -6.3, -1.5, 3.0, -2.6, -0.7, -9.2, 1.1, -1.9, -4.0, 0.7, -2.8, 5.3, -1.2, -14.0, -3.5, 0.0, -1.7, 2.6, -5.0, -0.5, -2.1, 10.5, -3.3, -0.9, 1.4, -4.4, -1.4, 0.5, -7.0, -2.0, 2.0, -3.0, -0.3,
     -3, 0, -5, -1, 2, -4, -2, -7, 0, -3, 3, -1, -5, -2, 1, -4, -10, -1, 2, -3, 0, -6, -2, 4, -1, -4, -3, 1, -2, -8, 0, -3, 3, -1, -5, -2, 1, -4, -1, -2],
    [0.5, 3.0, -1.5, 1.8, 4.2, -0.3, 2.4, -3.6, 1.1, 0.0, 5.1, -2.0, 1.5, 2.8, -8.0, 0.7, 3.6, -1.0, 1.9, -0.6, 6.5, 0.9, -2.7, 2.2, 11.0, -0.1, 1.3, -4.6, 3.3, 0.4, -1.4, 2.6, 0.2, 4.7, -0.9, 1.6, -2.4, 3.8, 0.6, 1.0,
     2, -1, 3, 0, 5, -2, 1, 4, -3, 2, 0, 6, -1, 3, -4, 1, 2, -2, 4, 0, 8, -1, 2, -5, 3, 1, -1, 4, 0, 2, -3, 5, 1, -2, 3, 0, -6, 2, 1, 4],
    [-0.8, -3.4, 1.6, -2.1, -5.2, -0.3, -1.9, 2.7, -4.3, -1.2, -7.9, 0.4, -2.6, -0.6, -14.5, -3.1, 1.0, -1.6, -4.8, 3.9, -0.9, -2.3, -6.1, 0.2, -1.4, 11.5, -3.7, -0.1, -2.0, 1.8, -5.4, -1.1, -9.0, 0.7, -2.7, -0.4, -3.9, 2.4, -1.3, -0.5,
     -1, -4, 0, -2, 3, -5, -1, -3, 1, -7, -2, 0, -4, 2, -1, -6, -3, 5, -2, 0, -9, -1, 2, -3, -5, 0, -2, 4, -4, -1, -2, -8, 1, -3, 0, -5, 3, -2, -1, -4],
    [4.2, 6.7, 2.8, 5.6, 8.6, 3.6, 5.0, 0.9, 6.3, 4.5, -4.0, 7.3, 3.9, 5.4, 9.9, 2.4, 6.1, 4.7, 13.5, 3.1, 5.7, 7.8, 4.0, 1.4, 6.5, 5.2, 3.4, 8.9, 4.9, 2.0, 6.0, 4.4, 7.0, 3.0, 5.8, 10.4, 4.1, 6.6, 3.7, 5.3,
     6, 3, 7, 4, 9, 5, 2, 6, 8, 4, 5, 1, 7, 3, 6, 10, 4, 5, 8, 2, 6, 4, 12, 5, 3, 7, 4, 0, 6, 5, 9, 3, 5, 7, 2, 6, 4, 8, 5, 4],
    [-6.1, -3.8, -8.2, -5.0, -2.6, -7.0, -4.5, -11.0, -5.7, -3.3, -6.8, -9.3, -4.1, -1.5, -6.3, -5.4, -17.0, -4.9, -7.6, -3.0, -5.9, -8.7, -4.3, 3.0, -6.5, -5.1, -2.2, -7.3, -4.7, -10.1, -5.6, -3.6, -6.9, -0.8, -5.2, -8.1, -4.0, -6.2, -2.9, -5.5,
     -5, -8, -3, -6, -4, -9, -2, -7, -5, -13, -4, -6, -8, -3, -5, 2, -7, -4, -6, -10, -5, -3, -7, -1, -6, -8, -4, -5, -15, -6, -3, -7, -5, -9, -4, -2, -6, -8, -5, -4],
    [7.5, 10.0, 5.8, 8.7, 11.8, 6.9, 9.3, 3.6, 8.1, 12.6, 7.2, 9.7, -1.0, 8.4, 10.9, 6.0, 15.6, 7.9, 9.1, 4.8, 8.3, 13.4, 6.6, 9.9, 7.0, 17.5, 8.5, 5.4, 10.4, 7.6, 2.5, 9.5, 6.8, 11.5, 8.0, 4.4, 9.0, 7.3, 12.1, 8.2,
     9, 6, 10, 7, 12, 8, 5, 9, 14, 7, 10, 3, 8, 11, 6, 9, 7, 13, 8, 5, 10, 7, 9, 16, 6, 8, 11, 4, 9, 7, 12, 8, 0, 10, 7, 9, 6, 11, 8, 9],
    [-1.2, 0.5, -3.1, -0.6, 1.6, -1.8, -4.6, -0.2, -1.0, 2.8, -2.4, -0.8, -12.5, -1.5, 0.8, -3.5, -0.4, 4.2, -1.9, -0.7, -6.0, 0.3, -1.3, 10.0, -2.1, -0.5, 1.2, -3.8, -1.1, -0.3, -7.5, 0.0, -1.7, 2.2, -2.7, -0.9, 5.4, -1.4, -0.1, -2.3,
     0, -2, -1, -4, 1, -2, -1, 3, -3, 0, -1, -5, 1, -2, -1, 2, -3, -7, 0, -1, 4, -2, -1, 1, -3, 0, -2, 5, -1, -4, 0, -2, 2, -1, -9, 0, -3, 1, -1, -2],
    [2.8, 5.2, 0.6, 3.7, 6.8, 1.9, 4.0, -1.8, 3.2, 7.9, 2.3, 4.7, -6.1, 3.0, 5.6, 1.3, 12.5, 2.6, 4.3, -0.3, 3.5, 9.5, 1.8, 4.9, 2.1, -3.5, 3.9, 6.3, 1.1, 4.2, 2.5, 10.8, 3.1, 0.2, 5.0, 2.9, 7.1, 1.6, 3.6, 4.5,
     3, 6, 2, 4, 0, 5, 3, 8, 1, 4, 6, -2, 3, 5, 2, 10, 4, 1, 6, 3, -4, 5, 2, 7, 3, 4, 0, 6, 9, 2, 4, 3, 7, 1, 5, -1, 4, 6, 2, 3],
    [5.4, 2.9, 7.0, 4.3, 9.6, 3.7, 6.1, -5.0, 4.8, 8.4, 2.2, 5.6, 4.0, 11.3, 6.3, 3.4, 15.5, 5.1, 1.3, 7.3, 4.6, 3.0, 6.7, 9.1, 4.1, 5.8, 0.4, 7.8, 3.9, 5.3, 12.4, 4.5, 6.9, 2.5, 5.0, 8.0, 3.6, 6.0, 4.9, 4.2,
     4, 7, 3, 5, 10, 2, 6, 4, 8, -1, 5, 3, 7, 4, 12, 6, 2, 5, 9, 4, 3, 6, 0, 7, 5, 3, 8, 4, 14, 5, 2, 6, 4, 9, 3, 6, 1, 5, 7, 4],
    [-0.2, 2.1, -2.5, 1.0, 3.6, -1.1, 0.6, -4.6, 1.8, -0.5, 4.4, -13.5, 0.9, 2.6, -1.8, 0.1, -3.3, 1.4, 6.9, -0.8, 0.3, -6.6, 2.4, -0.1, 11.5, -2.3, 1.1, -0.6, 3.0, -9.0, 0.5, 1.9, -1.5, 4.0, -0.4, 0.8, -2.8, 2.7, 0.0, -1.2,
     0, 3, -2, 1, -4, 2, 0, 5, -1, 1, -3, 4, 0, -6, 2, -1, 7, 1, -2, 3, 0, -10, 2, -1, 4, 1, -3, 0, 6, -2, 1, -5, 3, 0, 2, -1, 9, -3, 1, 0],
    [6.0, 3.9, 8.3, 5.4, 2.2, 7.1, 4.7, 10.5, 5.9, 3.1, 6.6, -4.5, 5.0, 8.8, 4.2, 6.3, 1.5, 7.6, 5.6, 16.0, 3.4, 6.8, 4.9, 9.2, 2.9, 5.7, 7.3, 4.1, 12.6, 5.2, 0.8, 6.5, 3.6, 8.1, 5.5, 4.4, 7.0, 2.6, 6.2, 5.1,
     5, 8, 4, 6, 2, 9, 5, 3, 7, 11, 4, 6, 1, 8, 5, 3, 6, 13, 4, 7, 5, 2, 9, 6, -3, 5, 7, 4, 10, 6, 3, 5, 8, 2, 6, 15, 4, 7, 5, 6],
    [5.0, 8.1, 6.4, 2.9, 7.5, 4.3, 9.0, 5.9, 1.2, 6.7, 4.8, 12.0, 6.0, 3.4, 7.8, -4.5, 5.5, 8.6, 6.2, 3.9, 10.2, 5.1, 2.4, 7.0, 13.5, 4.6, 6.5, 8.3, 3.0, 5.8, 7.2, 4.1, 9.6, 5.3, 0.9, 6.9, 4.5, 8.0, 5.6, 6.3,
     5, 3, 8, 6, 10, 4, 7, 1, 6, 9, 5, 3, 7, 12, 4, 6, 8, 2, 5, 7, -2, 6, 9, 4, 5, 11, 3, 7, 6, 0, 8, 5, 4, 9, 6, 3, 7, 5, 13, 6],
    [-1.0, 1.5, -2.8, 0.2, 2.9, -1.7, -0.3, -5.0, 1.1, 3.7, -0.9, 0.6, -2.4, -14.0, 0.9, -1.2, 5.1, -0.5, 1.8, -3.6, 0.0, 11.8, -2.1, 1.3, -0.7, -7.6, 2.4, -1.4, 0.5, 3.1, -2.9, -0.1, 6.6, -1.8, 0.7, -10.0, 1.6, -0.8, 2.2, -1.1,
     -1, 2, -3, 0, -5, 1, 3, -2, 0, -7, 2, -1, 4, -3, 1, 0, -4, 6, -1, -2, 1, -9, 3, 0, -2, 2, -5, 1, 8, -1, 0, -3, 2, -6, 1, -1, 3, -2, 0, 4],
    [-5.6, -8.9, -3.8, -7.0, -10.9, -6.3, -2.4, -8.2, -5.0, -14.0, -7.3, -4.4, -9.5, -6.6, -16.3, -5.4, -1.6, -7.8, -11.8, -6.0, -4.1, -8.6, 4.8, -6.9, -3.2, -9.1, -5.7, -12.5, -7.5, -4.7, -0.9, -8.0, -6.2, -10.3, -3.5, -7.1, -5.2, -9.0, -6.5, -2.8,
     -7, -4, -9, -6, -11, -3, -8, -5, -7, -13, -6, -2, -9, -5, -8, -15, -6, -4, -10, -7, 0, -8, -5, -6, -12, -3, -7, -9, -5, -1, -8, -6, -10, -4, -7, 2, -9, -5, -6, -8],
    [-9.0, -5.6, -11.9, -7.2, -3.9, -10.3, -6.8, -15.1, -8.1, -4.7, -9.8, -13.0, -6.2, -19.7, -8.6, -10.6, -5.3, -9.2, -2.1, -11.4, -7.6, -14.0, -8.9, -4.4, -10.0, 2.5, -7.9, -16.8, -6.5, -9.5, -12.2, -3.4, -8.3, -6.0, -13.3, -9.7, -1.2, -7.1, -10.9, -8.0,
     -9, -6, -11, -8, -13, -5, -10, -7, -15, -4, -9, -12, -7, 0, -10, -8, -17, -6, -11, -9, -3, -12, -7, -10, -14, -5, -9, -8, -19, -6, -11, -4, -10, -8, -13, -2, -9, -7, -12, -8],
]

TEXT = "#262626"
# fewer readings than the original draws, so the spline band gets a bit more opacity
trace_alpha = [0.35, 0.5, 0.35]


def style_axes(ax, show_y):
    ax.set_facecolor("#eeeeee")
    for s in ax.spines.values():
        s.set_visible(False)
    ax.grid(True, color="white", linewidth=1.1)
    ax.set_axisbelow(True)
    ax.tick_params(length=0, labelsize=9.5, colors=TEXT, pad=4)
    if not show_y:
        ax.set_yticks([])


def plot_kde(ax, curve, color, ls):
    xs, ys = zip(*curve)
    ax.plot(xs, ys, color=color, linestyle=ls, linewidth=1.3)


def plot_trace(ax, values, color, ls, alpha):
    x = np.linspace(0, n_draws - 1, len(values))
    ax.plot(x, values, color=color, linestyle=ls, linewidth=1.4, alpha=alpha)


fig, axes = plt.subplots(3, 2, figsize=(12.11, 6.11), dpi=100)
fig.subplots_adjust(left=10 / 1211, right=1201 / 1211, top=1 - 30 / 611, bottom=30 / 611,
                    wspace=0.084, hspace=0.3165)

kde_sets = [([intercept_kde_c0], [intercept_kde_c1]), (bs_kde_c0, bs_kde_c1), ([sigma_kde_c0], [sigma_kde_c1])]
trace_sets = [([intercept_trace_c0], [intercept_trace_c1]), (bs_trace_c0, bs_trace_c1),
              ([sigma_trace_c0], [sigma_trace_c1])]

for row in range(3):
    ax_k, ax_t = axes[row]
    for chain, ls in enumerate(["solid", "dotted"]):
        for k, curve in enumerate(kde_sets[row][chain]):
            plot_kde(ax_k, curve, palette[k % 10], ls)
        for k, vals in enumerate(trace_sets[row][chain]):
            plot_trace(ax_t, vals, palette[k % 10], ls, trace_alpha[row])
    style_axes(ax_k, False)
    style_axes(ax_t, True)
    ax_k.set_xticks(kde_xticks[row])
    ax_t.set_xlim(0, n_draws - 1)
    ax_t.set_xticks(draw_ticks)
    ax_t.set_yticks(trace_yticks[row])
    for ax in (ax_k, ax_t):
        ax.set_title(titles[row], fontsize=11.2, color=TEXT)

fig.savefig("out.png", dpi=100, facecolor="white")
